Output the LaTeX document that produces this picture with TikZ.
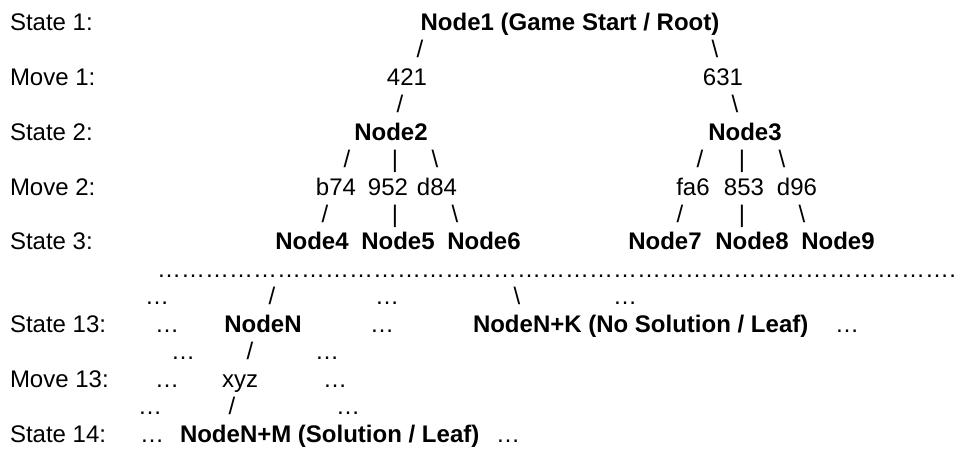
\documentclass[tikz,border=0pt]{standalone}
\usepackage{fontspec}
\setmainfont{Liberation Sans}
\begin{document}
\begin{tikzpicture}[x=1pt,y=-1pt,
  every node/.style={inner sep=0pt,outer sep=0pt,font=\fontsize{24}{28}\selectfont},
  lbl/.style={anchor=base west},
  txt/.style={anchor=base},
  bld/.style={anchor=base,font=\fontsize{24}{28}\selectfont\bfseries},
  bldw/.style={anchor=base west,font=\fontsize{24}{28}\selectfont\bfseries}]
\path[fill=white,use as bounding box] (0,0) rectangle (961,448);
\def\ya{30.3}\def\yb{57.75}\def\yc{85.2}\def\yd{112.65}\def\ye{140.1}\def\yf{167.55}
\def\yg{195.0}\def\yh{222.45}\def\yi{249.9}\def\yj{277.35}\def\yk{304.8}\def\yl{332.25}
\def\ym{359.7}\def\yn{387.15}\def\yo{414.6}\def\yp{442.05}
\def\ef{…}\def\eten{\ef\ef\ef\ef\ef\ef\ef\ef\ef\ef}
% row labels
\node[lbl] (l1) at (10,\ya) {State 1:};
\node[lbl] (l2) at (10,\yc) {Move 1:};
\node[lbl] (l3) at (10,\ye) {State 2:};
\node[lbl] (l4) at (10,\yg) {Move 2:};
\node[lbl] (l5) at (10,\yi) {State 3:};
\node[lbl] (l6) at (10,\yl) {State 13:};
\node[lbl] (l7) at (10,\yn) {Move 13:};
\node[lbl] (l8) at (10,\yp) {State 14:};
% state 1
\node[bld] (n1) at (570,\ya) {Node1 (Game Start / Root)};
\node[txt] (s1a) at (420,\yb) {/};
\node[txt] (s1b) at (715,\yb) {\textbackslash};
% move 1
\node[txt] (m421) at (407,\yc) {421};
\node[txt] (m631) at (723,\yc) {631};
\node[txt] (s2a) at (400,\yd) {/};
\node[txt] (s2b) at (735,\yd) {\textbackslash};
% state 2
\node[bld] (n2) at (391,\ye) {Node2};
\node[bld] (n3) at (745,\ye) {Node3};
\node[txt] (s3a) at (347,\yf) {/};
\node[txt] (s3b) at (395,\yf) {|};
\node[txt] (s3c) at (435,\yf) {\textbackslash};
\node[txt] (s3d) at (700,\yf) {/};
\node[txt] (s3e) at (742,\yf) {|};
\node[txt] (s3f) at (782,\yf) {\textbackslash};
% move 2
\node[txt] (mb74) at (336,\yg) {b74};
\node[txt] (m952) at (388,\yg) {952};
\node[txt] (md84) at (437,\yg) {d84};
\node[txt] (mfa6) at (693,\yg) {fa6};
\node[txt] (m853) at (744,\yg) {853};
\node[txt] (md96) at (797,\yg) {d96};
\node[txt] (s4a) at (325,\yh) {/};
\node[txt] (s4b) at (395,\yh) {|};
\node[txt] (s4c) at (455,\yh) {\textbackslash};
\node[txt] (s4d) at (680,\yh) {/};
\node[txt] (s4e) at (742,\yh) {|};
\node[txt] (s4f) at (802,\yh) {\textbackslash};
% state 3
\node[bld] (n4) at (312,\yi) {Node4};
\node[bld] (n5) at (398,\yi) {Node5};
\node[bld] (n6) at (484,\yi) {Node6};
\node[bld] (n7) at (665,\yi) {Node7};
\node[bld] (n8) at (752,\yi) {Node8};
\node[bld] (n9) at (838,\yi) {Node9};
% dotted separator
\node[lbl] (dots) at (157,\yj) {\eten\eten\eten\ef\ef\ef\kern0.02em.};
% gap row
\node[txt] (e1) at (157,\yk) {…};
\node[txt] (s5a) at (272,\yk) {/};
\node[txt] (e2) at (387,\yk) {…};
\node[txt] (s5b) at (517,\yk) {\textbackslash};
\node[txt] (e3) at (625,\yk) {…};
% state 13
\node[txt] (e4) at (167,\yl) {…};
\node[bld] (nN) at (263,\yl) {NodeN};
\node[txt] (e5) at (382,\yl) {…};
\node[bldw] (nNK) at (473,\yl) {NodeN+K (No Solution / Leaf)};
\node[txt] (e6) at (847,\yl) {…};
\node[txt] (e7) at (183,\ym) {…};
\node[txt] (s6a) at (250,\ym) {/};
\node[txt] (e8) at (327,\ym) {…};
% move 13
\node[txt] (e9) at (167,\yn) {…};
\node[txt] (mxyz) at (240,\yn) {xyz};
\node[txt] (e10) at (335,\yn) {…};
\node[txt] (e11) at (150,\yo) {…};
\node[txt] (s7a) at (232,\yo) {/};
\node[txt] (e12) at (348,\yo) {…};
% state 14
\node[txt] (e13) at (152,\yp) {…};
\node[bldw] (nNM) at (180,\yp) {NodeN+M (Solution / Leaf)};
\node[txt] (e14) at (508,\yp) {…};
\end{tikzpicture}
\end{document}
